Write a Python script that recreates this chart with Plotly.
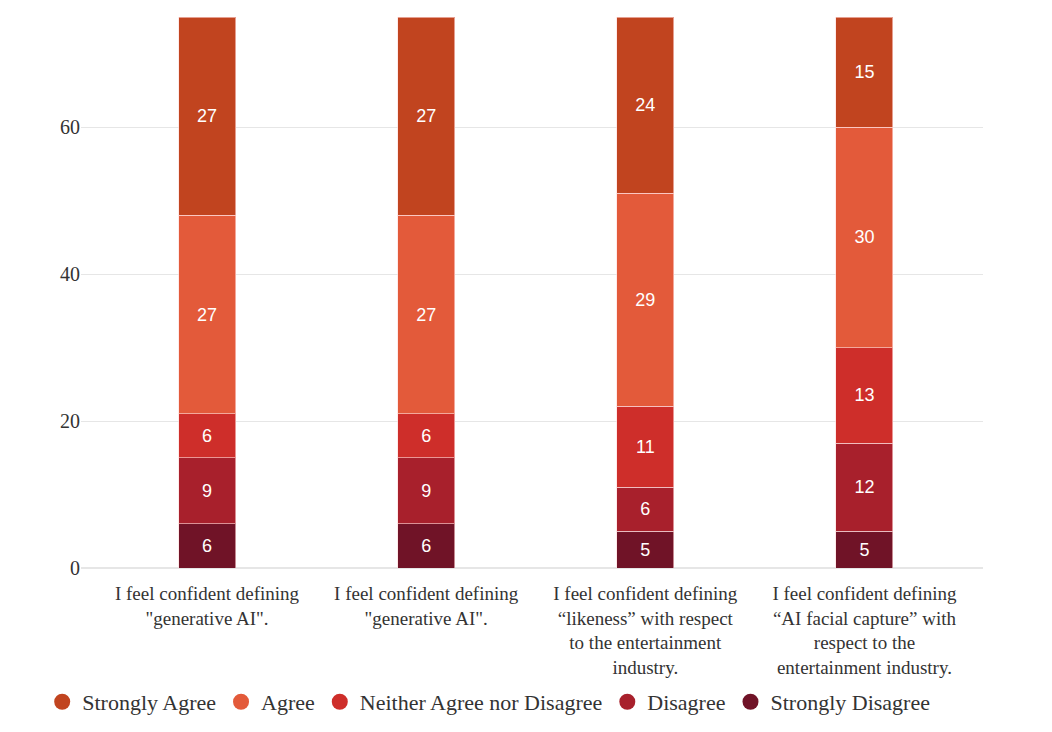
import plotly.graph_objects as go

categories = [
    'I feel confident defining<br>"generative AI".',
    'I feel confident defining<br>"generative AI".',
    'I feel confident defining<br>“likeness” with respect<br>to the entertainment<br>industry.',
    'I feel confident defining<br>“AI facial capture” with<br>respect to the<br>entertainment industry.',
]
series_names = ["Strongly Agree", "Agree", "Neither Agree nor Disagree", "Disagree", "Strongly Disagree"]
strongly_agree = [27, 27, 24, 15]
agree = [27, 27, 29, 30]
neither = [6, 6, 11, 13]
disagree = [9, 9, 6, 12]
strongly_disagree = [6, 6, 5, 5]
colors = ["#C1441F", "#E35A3A", "#CE2E2A", "#A8202C", "#701327"]
y_ticks = [0, 20, 40, 60]

values = [strongly_agree, agree, neither, disagree, strongly_disagree]
xpos = list(range(len(categories)))

fig = go.Figure()
# stack from bottom: Strongly Disagree first
for name, vals, col in reversed(list(zip(series_names, values, colors))):
    fig.add_trace(go.Bar(
        x=xpos, y=vals, name=name, width=0.26,
        marker=dict(color=col, line=dict(color="rgba(255,220,220,0.6)", width=1)),
        text=vals, textposition="inside", insidetextanchor="middle",
        textfont=dict(family="Liberation Sans, Arial, sans-serif", size=18, color="white"),
        showlegend=False, hoverinfo="y+name",
    ))
# legend entries with circles
for name, col in zip(series_names, colors):
    fig.add_trace(go.Scatter(
        x=[None], y=[None], mode="markers", name=name,
        marker=dict(symbol="circle", size=16, color=col),
        showlegend=True,
    ))

fig.update_layout(
    barmode="stack",
    width=1052, height=732,
    margin=dict(l=73, r=77, t=9, b=172),
    paper_bgcolor="white", plot_bgcolor="white",
    font=dict(family="Liberation Serif, Times New Roman, serif", color="#444"),
    legend=dict(orientation="h", x=0.452, xanchor="center", y=-0.205, yanchor="top",
                font=dict(size=22, color="#333"), traceorder="normal"),
    xaxis=dict(tickvals=xpos, ticktext=categories, range=[-0.575, 3.541],
               showgrid=False, zeroline=False, showline=False,
               ticks="outside", ticklen=8, tickcolor="rgba(0,0,0,0)",
               tickfont=dict(size=19, color="#333")),
    yaxis=dict(range=[0, 75], tickvals=y_ticks, showgrid=True, gridcolor="#e6e6e6",
               zeroline=True, zerolinecolor="#e6e6e6", showline=False,
               ticks="", tickfont=dict(size=20, color="#333")),
)

fig.write_html("out.html")
